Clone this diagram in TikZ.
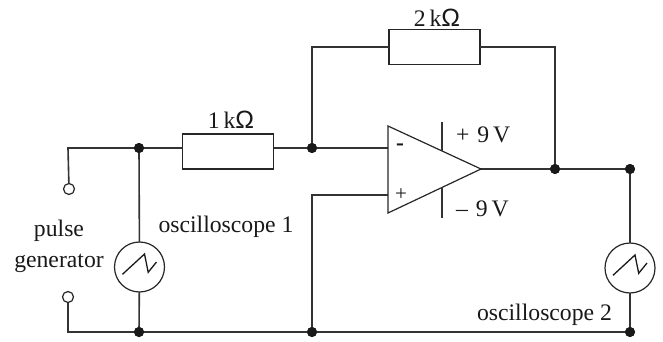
\documentclass[tikz,border=0pt]{standalone}
\usepackage{fontspec}
\setmainfont{Liberation Serif}
\newfontfamily\omegafont{Liberation Sans}
\usetikzlibrary{calc}
\tikzset{
  wire/.style={line width=1.6pt,draw=black!80},
  thinwire/.style={line width=1.2pt,draw=black!85},
  resistor/.style={draw=black!85,line width=1.2pt,fill=white,minimum width=91pt,minimum height=35pt,inner sep=0pt,outer sep=0pt},
  scope/.style={circle,draw=black!85,line width=1.2pt,fill=white,minimum size=50pt,inner sep=0pt,outer sep=0pt},
  dot/.style={circle,fill=black!90,minimum size=10pt,inner sep=0pt,outer sep=0pt},
  term/.style={circle,draw=black!85,line width=1.2pt,fill=white,minimum size=11pt,inner sep=0pt,outer sep=0pt},
  lab/.style={inner sep=0pt,outer sep=0pt,font=\fontsize{23.7}{27}\selectfont,text=black!90},
  saw/.style={line width=1.3pt,draw=black!90}
}
\newcommand{\sawtooth}[1]{\draw[saw] ($(#1)+(-17pt,-7.3pt)$) -- ($(#1)+(5pt,13pt)$) -- ($(#1)+(8.7pt,-5.3pt)$) -- ($(#1)+(17pt,5pt)$);}
\begin{document}
\begin{tikzpicture}[x=1pt,y=-1pt]
\useasboundingbox (0,0) rectangle (663,342);
% junctions and corners
\coordinate (tl) at (68,148);
\coordinate (bl) at (68,332);
\coordinate (ftl) at (312,47);
\coordinate (ftr) at (555,47);
\coordinate (tr) at (630,169);
\coordinate (pc) at (312,195);
\coordinate (ampM) at (388,148);
\coordinate (ampP) at (388,195);
\coordinate (ampT) at (481,169);
\coordinate (sTa) at (442,122);
\coordinate (sTb) at (442,151);
\coordinate (sBa) at (442,187);
\coordinate (sBb) at (442,218);
\coordinate (a) at (388,126);
\coordinate (b) at (388,213);
\node[term] (t1) at (69,189) {};
\node[term] (t2) at (68,297) {};
\node[dot] (j1) at (139,148) {};
\node[dot] (j2) at (139,332) {};
\node[dot] (j3) at (312,148) {};
\node[dot] (j4) at (312,332) {};
\node[dot] (j5) at (555,169) {};
\node[dot] (j6) at (630,169) {};
\node[dot] (j7) at (630,332) {};
\node[resistor] (r1) at (228,151.5) {};
\node[resistor] (r2) at (434.5,47) {};
\node[scope] (o1) at (139.5,267) {};
\node[scope] (o2) at (630,268) {};
% wires
\draw[wire] (t1) -- (tl) -- (j1) -- (r1.west |- j1);
\draw[wire] (r1.east |- j3) -- (j3) -- (ampM);
\draw[wire] (j3) -- (ftl) -- (r2.west);
\draw[wire] (r2.east) -- (ftr) -- (j5);
\draw[wire] (ampT) -- (j5) -- (j6) -- (o2);
\draw[wire] (o2) -- (j7);
\draw[wire] (j1) -- (o1);
\draw[wire] (o1) -- (j2);
\draw[wire] (t2) -- (bl) -- (j2) -- (j4) -- (j7);
\draw[wire] (ampP) -- (pc) -- (j4);
% op amp
\draw[thinwire,line join=miter] (a) -- (ampT) -- (b) -- cycle;
\draw[wire] (sTa) -- (sTb);
\draw[wire] (sBa) -- (sBb);
\node[dot] at (j1) {};\node[dot] at (j2) {};\node[dot] at (j3) {};\node[dot] at (j4) {};\node[dot] at (j5) {};\node[dot] at (j6) {};\node[dot] at (j7) {};
\sawtooth{o1}
\sawtooth{o2}
% labels
\node[lab] (l2k) at (437,18) {2\,k{\omegafont\fontsize{25}{27}\selectfont Ω}};
\node[lab] (l1k) at (231,120) {1\,k{\omegafont\fontsize{25}{27}\selectfont Ω}};
\node[lab,anchor=west] (lp) at (456,135) {+\hspace{8pt}9\hspace{4pt}V};
\node[lab,anchor=west] (ln) at (456,209) {–\hspace{8pt}9\hspace{4pt}V};
\node[lab] (lm) at (400,147) {\textbf{-}};
\node[lab,font=\fontsize{21}{24}\selectfont] (lpl) at (401,195) {+};
\node[lab] (lo1) at (226,227) {oscilloscope 1};
\node[lab] (lo2) at (544.5,315) {oscilloscope 2};
\node[lab] (lg1) at (59,231) {pulse};
\node[lab] (lg2) at (59,263) {generator};
\end{tikzpicture}
\end{document}
